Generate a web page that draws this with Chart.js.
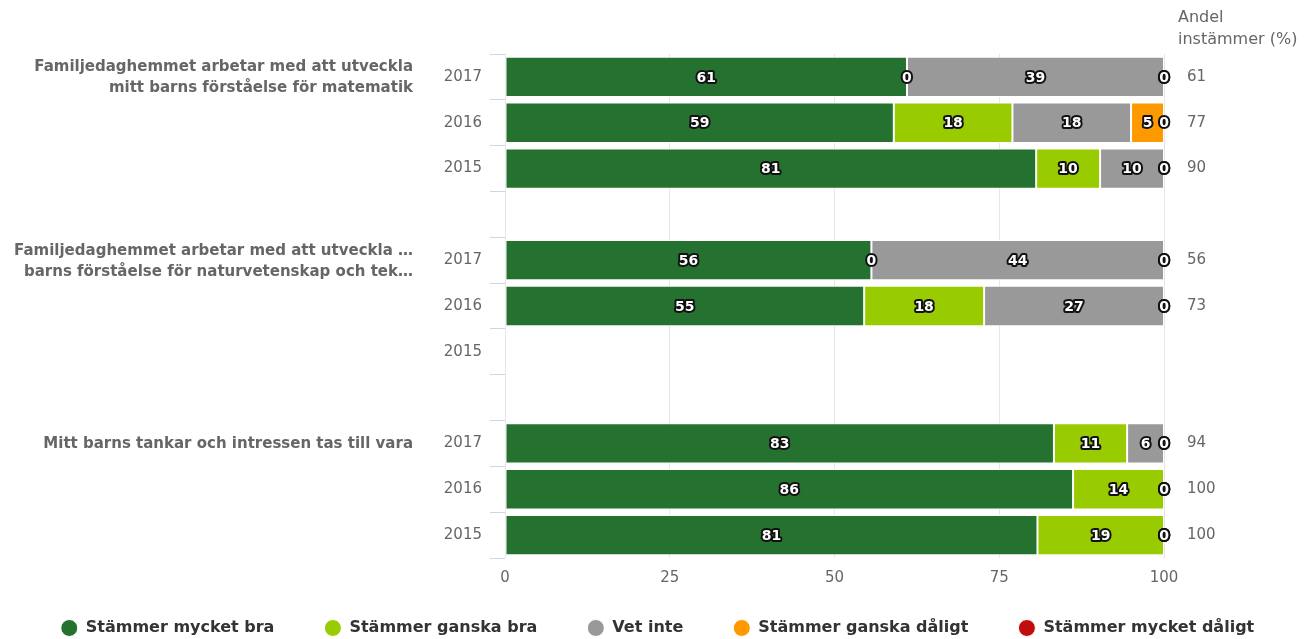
<!DOCTYPE html>
<html>
<head>
<meta charset="utf-8">
<script src="https://cdn.jsdelivr.net/npm/chart.js@4/dist/chart.umd.min.js"></script>
<style>
  html, body { margin: 0; padding: 0; background: #fff; }
  #wrap { width: 1315px; height: 639px; position: relative; }
</style>
</head>
<body>
<div id="wrap"><canvas id="chart"></canvas></div>
<script>
// rows: three questions x three years, blank row between groups
const rowLabels = ['2017', '2016', '2015', '', '2017', '2016', '2015', '', '2017', '2016', '2015'];

const groupLabels = [
  ['Familjedaghemmet arbetar med att utveckla', 'mitt barns förståelse för matematik'],
  ['Familjedaghemmet arbetar med att utveckla …', 'barns förståelse för naturvetenskap och tek…'],
  ['Mitt barns tankar och intressen tas till vara']
];
const groupRows = [0, 4, 8];

const seriesNames = ['Stämmer mycket bra', 'Stämmer ganska bra', 'Vet inte', 'Stämmer ganska dåligt', 'Stämmer mycket dåligt'];
const seriesColors = ['#257230', '#99cc00', '#999999', '#ff9900', '#c00d0d'];

const mycketBra    = [61, 59, 80.6, null, 55.6, 54.5, null, null, 83.3, 86.2, 80.8];
const ganskaBra    = [0, 18, 9.7, null, 0, 18.2, null, null, 11.1, 13.8, 19.2];
const vetInte      = [39, 18, 9.7, null, 44.4, 27.3, null, null, 5.6, 0, 0];
const ganskaDaligt = [0, 5, 0, null, 0, 0, null, null, 0, 0, 0];
const mycketDaligt = [0, 0, 0, null, 0, 0, null, null, 0, 0, 0];

const andelInstammer = [61, 77, 90, null, 56, 73, null, null, 94, 100, 100];
const andelTitle = ['Andel', 'instämmer (%)'];

const xTicks = [0, 25, 50, 75, 100];

const FONT = '"DejaVu Sans", Verdana, sans-serif';

const allSeries = [mycketBra, ganskaBra, vetInte, ganskaDaligt, mycketDaligt];

// value labels inside the bars, white with a dark outline
const barLabels = {
  id: 'barLabels',
  afterDatasetsDraw(chart) {
    const ctx = chart.ctx;
    ctx.save();
    ctx.font = 'bold 14px ' + FONT;
    ctx.textAlign = 'center';
    ctx.textBaseline = 'middle';
    ctx.lineJoin = 'round';
    chart.data.datasets.forEach((ds, i) => {
      const meta = chart.getDatasetMeta(i);
      meta.data.forEach((bar, j) => {
        const v = ds.data[j];
        if (v === null || v === undefined) return;
        const p = bar.getProps(['x', 'y', 'base'], true);
        const cx = (p.x + p.base) / 2;
        const txt = String(Math.round(v));
        ctx.lineWidth = 4;
        ctx.strokeStyle = '#111';
        ctx.strokeText(txt, cx, p.y + 1);
        ctx.fillStyle = '#fff';
        ctx.fillText(txt, cx, p.y + 1);
      });
    });
    ctx.restore();
  }
};

// question texts on the left, column header on the right
const sideText = {
  id: 'sideText',
  afterDraw(chart) {
    const ctx = chart.ctx;
    const yScale = chart.scales.y;
    const area = chart.chartArea;
    ctx.save();
    ctx.fillStyle = '#666';
    ctx.textBaseline = 'middle';

    ctx.font = 'bold 15px ' + FONT;
    ctx.textAlign = 'right';
    groupLabels.forEach((lines, i) => {
      const cy = yScale.getPixelForValue(groupRows[i]);
      lines.forEach((line, k) => {
        ctx.fillText(line, 413, cy + 1 + (k - (lines.length - 1) / 2) * 21);
      });
    });

    ctx.font = '16px ' + FONT;
    ctx.textAlign = 'left';
    ctx.fillText(andelTitle[0], area.right + 14, 18);
    ctx.fillText(andelTitle[1], area.right + 14, 40);
    ctx.restore();
  }
};

// legend keeps wide gaps between items but sits close to the bottom edge
const legendShift = {
  id: 'legendShift',
  afterLayout(chart) {
    const lg = chart.legend;
    lg.top = 570;
    lg.height = lg.bottom - lg.top;
  }
};

new Chart(document.getElementById('chart'), {
  type: 'bar',
  data: {
    labels: rowLabels,
    datasets: seriesNames.map((name, i) => ({
      label: name,
      data: allSeries[i],
      backgroundColor: seriesColors[i],
      borderColor: '#fff',
      borderWidth: 1,
      borderSkipped: false,
      barPercentage: 0.88,
      categoryPercentage: 1
    }))
  },
  options: {
    indexAxis: 'y',
    responsive: true,
    maintainAspectRatio: false,
    animation: false,
    layout: { padding: { top: 54, right: 0, left: 0, bottom: 0 } },
    scales: {
      x: {
        stacked: true,
        min: 0,
        max: 100,
        afterBuildTicks(scale) { scale.ticks = xTicks.map(v => ({ value: v })); },
        grid: { color: '#e6e6e6', drawTicks: false },
        border: { display: false },
        ticks: { color: '#666', font: { family: FONT, size: 15 }, padding: 11 }
      },
      y: {
        stacked: true,
        afterFit(scale) { scale.width = 505; },
        grid: { drawOnChartArea: false, color: '#ccd6eb', tickLength: 15 },
        border: { display: false },
        ticks: { color: '#666', font: { family: FONT, size: 15 }, padding: 8, autoSkip: false }
      },
      andel: {
        type: 'category',
        position: 'right',
        labels: andelInstammer.map(v => (v === null ? '' : String(v))),
        offset: true,
        afterFit(scale) { scale.width = 151; },
        grid: { display: false, drawTicks: false },
        border: { display: false },
        ticks: { color: '#666', font: { family: FONT, size: 15 }, padding: 23, autoSkip: false }
      }
    },
    plugins: {
      tooltip: { enabled: false },
      legend: {
        position: 'bottom',
        maxHeight: 41,
        labels: {
          usePointStyle: true,
          pointStyle: 'circle',
          pointStyleWidth: 17,
          boxHeight: 12,
          padding: 50,
          color: '#333',
          font: { family: FONT, size: 16, weight: 'bold' }
        }
      }
    }
  },
  plugins: [barLabels, sideText, legendShift]
});
</script>
</body>
</html>
